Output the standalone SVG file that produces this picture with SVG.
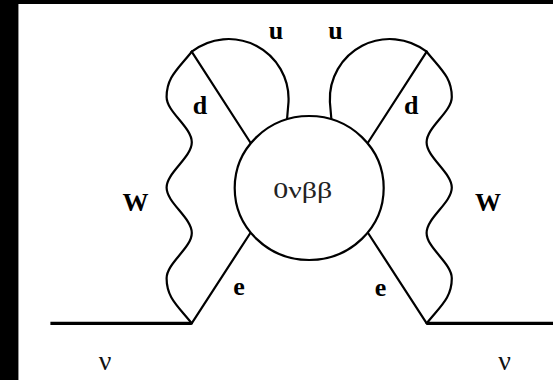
<svg xmlns="http://www.w3.org/2000/svg" width="553" height="380" viewBox="0 0 553 380">
  <style>
    .ln { fill: none; stroke: #000; stroke-width: 2.2; stroke-linecap: round; stroke-linejoin: round; }
    .thick { fill: none; stroke: #000; stroke-width: 3.2; }
    .lbl { font-family: "Liberation Serif", "Times New Roman", serif; font-weight: bold; font-size: 26px; fill: #000; text-anchor: middle; }
    .nu { font-family: "Liberation Serif", "Times New Roman", serif; font-size: 28px; fill: #111; text-anchor: middle; }
  </style>
  <rect x="0" y="0" width="553" height="380" fill="#fff"/>
  <rect x="0" y="0" width="553" height="4" fill="#000"/>
  <rect x="0" y="0" width="18" height="380" fill="#000"/>
  <rect x="18" y="4" width="0.8" height="376" fill="#777"/>

  <g id="connectors">
    <!-- neutrino lines -->
    <line class="thick" x1="50.4" y1="323.3" x2="191.7" y2="323.3"/>
    <line class="thick" x1="426.7" y1="323.3" x2="553" y2="323.3"/>
    <!-- electron lines -->
    <line class="ln" x1="191.7" y1="323.3" x2="251" y2="232"/>
    <line class="ln" x1="426.7" y1="323.3" x2="367.4" y2="232"/>
    <!-- d quark lines -->
    <line class="ln" x1="191.7" y1="51.7" x2="251" y2="143.5"/>
    <line class="ln" x1="426.7" y1="51.7" x2="367.4" y2="143.5"/>
    <!-- u quark arcs -->
    <path class="ln" d="M191.7,51.7 A60,60 0 0 1 288.5,102 L287,119.5"/>
    <path class="ln" d="M426.7,51.7 A60,60 0 0 0 329.9,102 L331.4,119.5"/>
    <!-- W boson wavy lines -->
    <path class="ln" d="M191.7,51.7 C178,69 166.6,77 166.6,97 C166.6,112 191.8,127.2 191.8,142.3 C191.8,157.5 166.6,172.5 166.6,187.6 C166.6,202.8 191.8,217.8 191.8,232.9 C191.8,248 166.6,263 166.6,278.2 C166.6,298 178,306 191.7,323.3"/>
    <path class="ln" d="M426.7,51.7 C440.4,69 451.8,77 451.8,97 C451.8,112 426.6,127.2 426.6,142.3 C426.6,157.5 451.8,172.5 451.8,187.6 C451.8,202.8 426.6,217.8 426.6,232.9 C426.6,248 451.8,263 451.8,278.2 C451.8,298 440.4,306 426.7,323.3"/>
  </g>

  <g id="vertex-0vbb">
    <ellipse cx="309.2" cy="188" rx="74.5" ry="72" fill="#fff" stroke="#000" stroke-width="2.2"/>
    <text x="273.3" y="198.3" textLength="59" lengthAdjust="spacingAndGlyphs" font-family="Liberation Serif, Times New Roman, serif" font-size="23" fill="#222">0νββ</text>
  </g>

  <g id="labels">
    <text class="lbl" x="276" y="39.3">u</text>
    <text class="lbl" x="335.5" y="39.3">u</text>
    <text class="lbl" x="200" y="114">d</text>
    <text class="lbl" x="411.3" y="114">d</text>
    <text class="lbl" x="135.5" y="210.7">W</text>
    <text class="lbl" x="488" y="211">W</text>
    <text class="lbl" x="239" y="295">e</text>
    <text class="lbl" x="380.5" y="296">e</text>
    <text class="nu" x="105" y="370">ν</text>
    <text class="nu" x="504.5" y="370">ν</text>
  </g>
</svg>
